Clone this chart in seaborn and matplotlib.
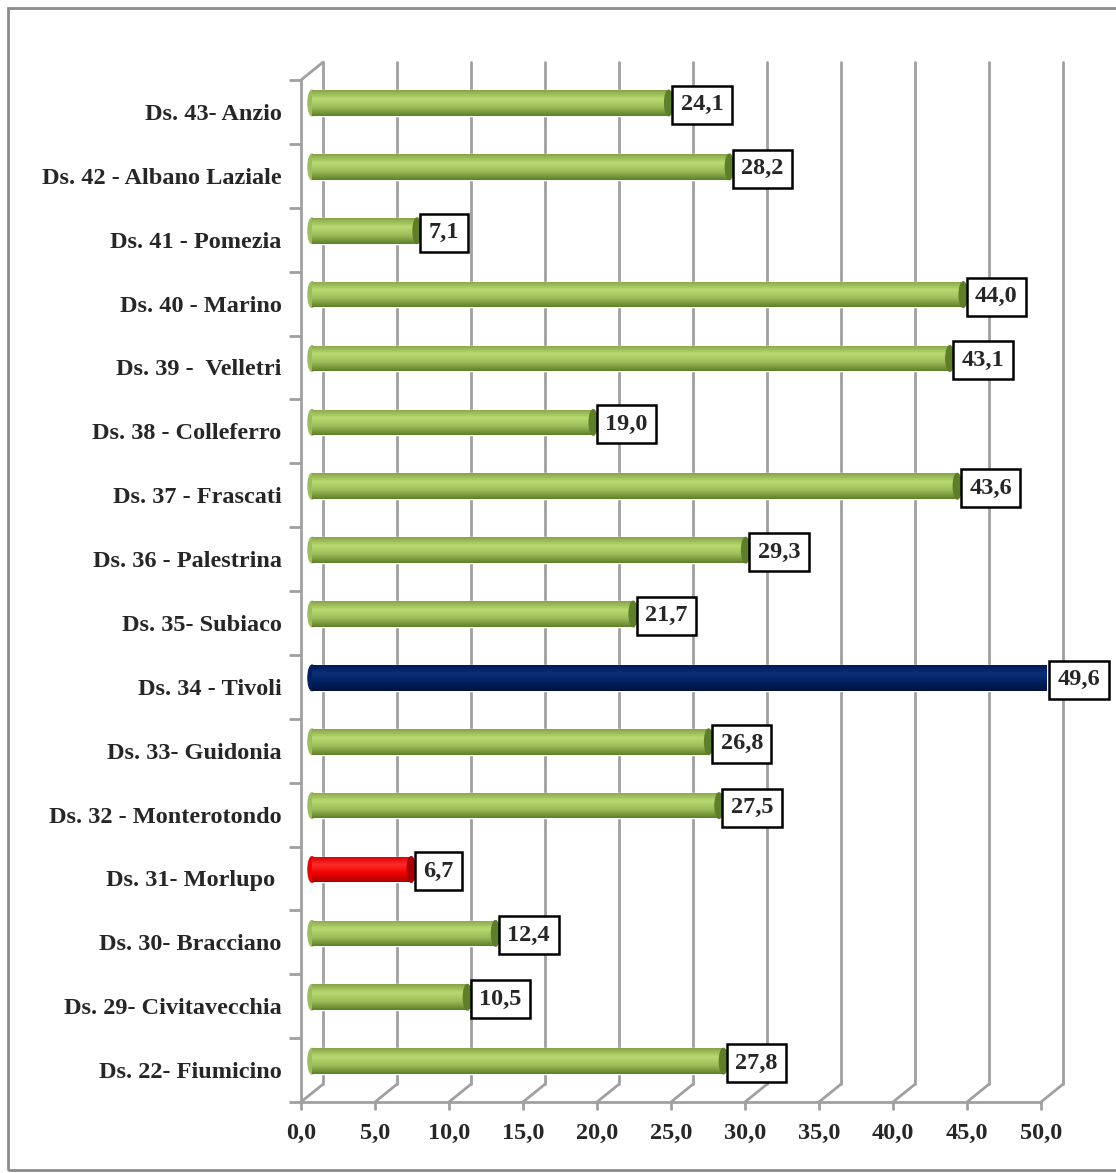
import matplotlib
matplotlib.use("Agg")
import matplotlib.pyplot as plt
import seaborn as sns
import numpy as np
from matplotlib.colors import LinearSegmentedColormap
from matplotlib.patches import Ellipse, Rectangle

# data (top to bottom, as shown)
districts = [
    "Ds. 43- Anzio", "Ds. 42 - Albano Laziale", "Ds. 41 - Pomezia",
    "Ds. 40 - Marino", "Ds. 39 -  Velletri", "Ds. 38 - Colleferro",
    "Ds. 37 - Frascati", "Ds. 36 - Palestrina", "Ds. 35- Subiaco",
    "Ds. 34 - Tivoli", "Ds. 33- Guidonia", "Ds. 32 - Monterotondo",
    "Ds. 31- Morlupo ", "Ds. 30- Bracciano", "Ds. 29- Civitavecchia",
    "Ds. 22- Fiumicino",
]
values = [24.1, 28.2, 7.1, 44.0, 43.1, 19.0, 43.6, 29.3, 21.7, 49.6,
          26.8, 27.5, 6.7, 12.4, 10.5, 27.8]
highest = "Ds. 34 - Tivoli"
lowest = "Ds. 31- Morlupo "
x_ticks = np.arange(0, 50.1, 5)

# colour ramps for the cylinder look: (edge, highlight, mid, dark bottom)
ramps = {
    "green": ["#86a447", "#b9da72", "#9cbd58", "#5f7e2b"],
    "navy": ["#001a55", "#0d2f78", "#00205f", "#00123d"],
    "red": ["#d40000", "#ff2a2a", "#f00000", "#a80000"],
}
base = {"green": "#9bbb59", "navy": "#002060", "red": "#ff0000"}

sns.set_style("white")
plt.rcParams["font.family"] = ["Liberation Serif", "DejaVu Serif"]
plt.rcParams["font.weight"] = "bold"

W, H = 1116, 1173
fig = plt.figure(figsize=(W / 100, H / 100), dpi=100)
fig.patch.set_facecolor("white")
fig.patches.append(Rectangle((8 / W, 3 / H), 1.2, 1 - 11 / H, transform=fig.transFigure,
                             fill=False, ec="#8c8c8c", lw=2))

ax = fig.add_axes([301 / W, 71 / H, 740 / W, 1022 / H])
kinds = ["navy" if d == highest else "red" if d == lowest else "green" for d in districts]
sns.barplot(x=values, y=districts, hue=districts, palette=[base[k] for k in kinds],
            legend=False, orient="h", width=0.40, saturation=1, ax=ax, zorder=3)

ax.set_xlim(0, 50)
ax.set_ylim(len(districts) - 0.5, -0.5)

# 3D depth offset of the back wall (in data units)
dx, dy = 1.49, 0.28
grid_kw = dict(color="#a0a0a0", lw=2, clip_on=False, zorder=1)
for xv in x_ticks:
    ax.plot([xv + dx, xv + dx], [len(districts) - 0.5 - dy, -0.5 - dy], **grid_kw)
    ax.plot([xv, xv + dx], [len(districts) - 0.5, len(districts) - 0.5 - dy], **grid_kw)
ax.plot([0, dx], [-0.5, -0.5 - dy], **grid_kw)

# cylinder shading on each bar
for patch, kind, v in zip(ax.patches, kinds, values):
    patch.set_x(patch.get_x() + dx / 2)
    patch.set_y(patch.get_y() - dy / 2)
    x0, y0 = patch.get_x(), patch.get_y()
    w, h = patch.get_width(), patch.get_height()
    cmap = LinearSegmentedColormap.from_list(kind, ramps[kind])
    grad = np.linspace(0, 1, 64).reshape(-1, 1)
    img = ax.imshow(grad, cmap=cmap, aspect="auto", extent=[x0, x0 + w, y0 + h, y0],
                    zorder=4, interpolation="bicubic")
    img.set_clip_path(patch)
    ax.add_patch(Ellipse((x0, y0 + h / 2), 0.55, h, color=ramps[kind][2], zorder=3.5))
    ax.add_patch(Ellipse((x0 + w, y0 + h / 2), 0.55, h, color=ramps[kind][3], zorder=5))
    ax.text(x0 + w + 0.8, y0 + h / 2 + 0.03, f"{v:.1f}".replace(".", ","), ha="left",
            va="center", fontsize=17.5, fontweight="bold", zorder=6,
            bbox=dict(boxstyle="square,pad=0.35", fc="white", ec="black", lw=1.8))

ax.set_xlim(0, 50)
ax.set_ylim(len(districts) - 0.5, -0.5)

ax.set_xticks(x_ticks)
ax.set_xticklabels([f"{t:.1f}".replace(".", ",") for t in x_ticks], fontsize=17.5,
                   fontweight="bold")
ax.set_yticks(range(len(districts)))
ax.set_yticklabels(districts, fontsize=17.5, fontweight="bold")
ax.set_yticks(np.arange(-0.5, len(districts), 1), minor=True)
ax.tick_params(axis="y", which="major", left=True, length=0, pad=14)
ax.tick_params(axis="y", which="minor", left=True, length=9, width=2, color="#a0a0a0",
               direction="out")
ax.tick_params(axis="x", bottom=True, length=6, width=2, color="#a0a0a0", direction="out",
               pad=9)
ax.set_xlabel("")
ax.set_ylabel("")

for s in ["top", "right"]:
    ax.spines[s].set_visible(False)
for s in ["left", "bottom"]:
    ax.spines[s].set_color("#a0a0a0")
    ax.spines[s].set_linewidth(2)
ax.set_facecolor("none")

fig.savefig("out.png", dpi=100)
